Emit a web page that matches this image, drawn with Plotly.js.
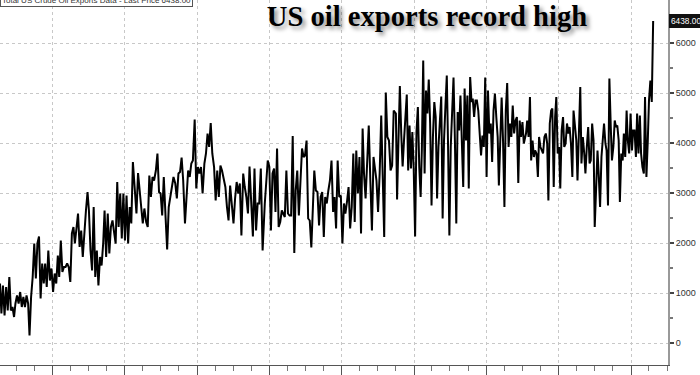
<!DOCTYPE html>
<html>
<head>
<meta charset="utf-8">
<script src="https://cdn.plot.ly/plotly-3.0.1.min.js"></script>
<style>html,body{margin:0;padding:0;background:#fff;}#chart{width:700px;height:375px;}</style>
</head>
<body>
<div id="chart"></div>
<script>
// Weekly US crude oil exports (thousand barrels/day) in five stretches
const periodStart = ['2017-04-11', '2019-02-21', '2020-12-08', '2022-10-01', '2024-07-19'];
const periodEnd   = ['2019-02-11', '2020-11-27', '2022-09-20', '2024-07-08', '2026-04-22'];

const exports1 = [1190, 590, 1150, 550, 1120, 650, 1320, 650, 720, 520, 790, 950, 790, 1020, 720, 920, 720, 950, 790, 150,
  920, 1320, 1990, 1290, 1990, 2130, 890, 1590, 1190, 1590, 1120, 1850, 1250, 1490, 1020, 1390, 1190, 1750, 1320, 2050,
  1420, 1520, 1520, 1590, 1520, 1220, 2190, 2320, 1990, 2250, 2590, 1920, 2250, 1720, 2250, 2650, 3020, 2650, 1850, 1450,
  2720, 1320, 1850, 1150, 1720, 1550, 1990, 2650, 1720, 2590, 1790, 2320, 2450, 2250, 1990, 3220, 2320, 2990, 2090, 2990,
  2050, 2950, 1990, 2720, 2390, 3620];

const exports2 = [3120, 2590, 3400, 3120, 2720, 2390, 2690, 2420, 2320, 3350, 2920, 3320, 3250, 3450, 3790, 3020, 2990, 2550,
  3320, 2520, 1870, 2720, 2920, 3120, 3320, 3190, 2890, 3390, 3420, 3710, 3250, 2390, 2990, 3450, 3320, 3590, 3650, 4470,
  3090, 3520, 3390, 3520, 2990, 3590, 3790, 4190, 3920, 4400, 3790, 3520, 2850, 3450, 2920, 3550, 3450, 3250, 3120, 2720,
  2450, 3150, 2720, 2390, 2890, 3220, 2990, 3190, 2150, 3390, 3120, 2920, 2590, 3530, 2850, 2130, 3490, 2250, 2790, 2790,
  3490, 1850];

const exports3 = [2790, 3320, 3650, 3520, 2250, 3390, 3490, 2620, 3890, 2320, 2420, 2650, 2590, 2520, 3450, 2590, 2550, 2550,
  4140, 1800, 3050, 3450, 2550, 3390, 3890, 3720, 3750, 4050, 2490, 2450, 1910, 2720, 3450, 3050, 3020, 2350, 2920, 3020,
  2120, 2920, 2790, 3050, 3250, 3650, 2620, 2920, 2290, 3650, 2920, 2950, 1990, 2790, 2590, 2820, 3120, 2290, 2720, 3790,
  2420, 3850, 2990, 3720, 2190, 4290, 3390, 2890, 3720, 4350, 3250, 2250, 3720, 3450, 3250, 2620, 3390, 4550, 3350, 2120,
  5010, 4120, 4050, 3450, 3550, 4650];

const exports4 = [4590, 2870, 4050, 5140, 4190, 3530, 4050, 4520, 4970, 3450, 4350, 3490, 4220, 3490, 2130, 4220, 4720, 3520,
  2920, 3850, 5650, 3390, 5050, 4590, 5270, 4390, 2750, 4120, 4820, 4520, 2890, 3920, 4490, 4930, 2490, 4050, 4720, 5350,
  4050, 2150, 3920, 4720, 5310, 4050, 2390, 4620, 4250, 4950, 4050, 3120, 5090, 4050, 4950, 3090, 5320, 4820, 4890, 4520,
  4850, 4850, 4650, 4150, 3750, 4150, 3920, 5310, 3320, 5050, 4190, 4390, 3620, 4650, 4990, 4520, 4120, 3150, 4350, 4910,
  4050, 2720, 4650, 5200, 3920, 4390, 4120, 4750, 4190, 4450, 4520, 3200, 4450, 4120, 4420, 3990];

const exports5 = [4190, 4450, 4120, 4920, 3650, 4050, 3720, 3850, 3790, 3320, 4120, 3920, 3850, 3790, 4120, 4190, 3990, 2850,
  4390, 4650, 4690, 3120, 4520, 4920, 3790, 3920, 3090, 4250, 4520, 3920, 3990, 4390, 4190, 4320, 3990, 3320, 4650, 4320,
  4050, 3250, 4320, 5120, 3590, 4120, 3790, 3390, 3920, 4320, 3590, 3650, 4390, 4050, 2320, 3250, 3850, 3390, 2720, 3720,
  4120, 4390, 3990, 3850, 2750, 5290, 4320, 3650, 3920, 4450, 4320, 4350, 4050, 2820, 3790, 3650, 4190, 3720, 4650, 4050,
  3790, 4590, 3850, 4250, 4250, 3720, 4590, 3790, 4550, 3790, 3520, 3390, 4920, 3320, 4050, 4850, 5250, 4820, 6438];

const lastPrice = 6438.00;
const titleText = 'US oil exports record high';
const legendText = 'Total US Crude Oil Exports Data - Last Price 6438.00';
const yTicks = [0, 1000, 2000, 3000, 4000, 5000, 6000];

const periods = [exports1, exports2, exports3, exports4, exports5];
const xs = [], ys = [];
periods.forEach((vals, k) => {
  const t0 = new Date(periodStart[k] + 'T00:00:00Z').getTime();
  const t1 = new Date(periodEnd[k] + 'T00:00:00Z').getTime();
  const step = (t1 - t0) / (vals.length - 1);
  vals.forEach((v, i) => {
    xs.push(new Date(t0 + i * step).toISOString().slice(0, 10));
    ys.push(v);
  });
});

const trace = {
  x: xs, y: ys, type: 'scatter', mode: 'lines',
  line: {color: '#000', width: 2},
  hoverinfo: 'skip'
};

const layout = {
  width: 700, height: 375,
  margin: {l: 0, r: 32, t: 0, b: 10, pad: 0},
  paper_bgcolor: '#fff', plot_bgcolor: '#fff',
  showlegend: false,
  font: {family: 'Liberation Sans, Arial, sans-serif', color: '#333'},
  title: {
    text: '<b>' + titleText + '</b>',
    xref: 'container', yref: 'container',
    x: 0.61, xanchor: 'center', y: 0.985, yanchor: 'top',
    font: {family: 'Liberation Serif, Times New Roman, serif', size: 28.6, color: '#000',
           shadow: '3px 3px 4px rgba(0,0,0,0.45)'}
  },
  xaxis: {
    type: 'date',
    range: ['2017-04-11', '2026-07-06'],
    dtick: 'M12', tick0: '2018-01-01',
    showgrid: true, gridcolor: '#c8c8c8', griddash: 'dot', gridwidth: 1,
    ticks: 'outside', ticklen: 9, tickcolor: '#555', tickwidth: 1,
    showticklabels: false,
    showline: true, linecolor: '#555', linewidth: 1,
    zeroline: false,
    minor: {dtick: 'M3', ticks: 'outside', ticklen: 5, tickcolor: '#777', showgrid: false},
    fixedrange: true
  },
  yaxis: {
    side: 'right',
    range: [-440, 6860],
    tickvals: yTicks,
    ticktext: yTicks.map(String),
    showgrid: true, gridcolor: '#c8c8c8', griddash: 'dot', gridwidth: 1,
    ticks: 'outside', ticklen: 4, tickwidth: 2, tickcolor: '#444',
    tickfont: {size: 9, color: '#333', family: 'Liberation Sans, Arial, sans-serif'},
    showline: true, linecolor: '#999', linewidth: 2,
    zeroline: false,
    minor: {dtick: 500, tick0: 0, ticks: 'outside', ticklen: 3, tickcolor: '#777', showgrid: false},
    fixedrange: true
  },
  annotations: [
    {
      xref: 'paper', yref: 'y', x: 1, y: lastPrice, xanchor: 'left', yanchor: 'middle',
      xshift: 1, text: lastPrice.toFixed(2), showarrow: false,
      bgcolor: '#111', bordercolor: '#111', borderpad: 1,
      font: {size: 8.3, color: '#fff', family: 'Liberation Sans, Arial, sans-serif'}
    },
    {
      xref: 'paper', yref: 'paper', x: 193 / 668, y: 1 - 7 / 365, xanchor: 'right', yanchor: 'bottom',
      text: legendText, showarrow: false,
      bgcolor: '#fff', bordercolor: '#555', borderwidth: 1, borderpad: 1,
      font: {size: 8, color: '#333', family: 'Liberation Sans, Arial, sans-serif'}
    }
  ]
};

Plotly.newPlot('chart', [trace], layout, {displayModeBar: false, staticPlot: true});
</script>
</body>
</html>
